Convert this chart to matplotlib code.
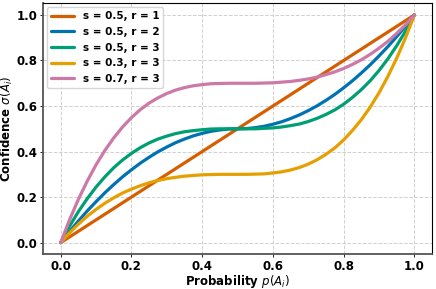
import numpy as np
import matplotlib
matplotlib.use("Agg")
import matplotlib.pyplot as plt

# probability grid (x values)
p = [0.0, 0.025, 0.05, 0.075, 0.1, 0.125, 0.15, 0.175, 0.2, 0.225, 0.25,
     0.275, 0.3, 0.325, 0.35, 0.375, 0.4, 0.425, 0.45, 0.475, 0.5,
     0.525, 0.55, 0.575, 0.6, 0.625, 0.65, 0.675, 0.7, 0.725, 0.75,
     0.775, 0.8, 0.825, 0.85, 0.875, 0.9, 0.925, 0.95, 0.975, 1.0]

# confidence values for each (s, r) curve
conf_s05_r1 = [0.0, 0.025, 0.05, 0.075, 0.1, 0.125, 0.15, 0.175, 0.2, 0.225, 0.25,
               0.275, 0.3, 0.325, 0.35, 0.375, 0.4, 0.425, 0.45, 0.475, 0.5,
               0.525, 0.55, 0.575, 0.6, 0.625, 0.65, 0.675, 0.7, 0.725, 0.75,
               0.775, 0.8, 0.825, 0.85, 0.875, 0.9, 0.925, 0.95, 0.975, 1.0]
conf_s05_r2 = [0.0, 0.049, 0.095, 0.139, 0.18, 0.219, 0.255, 0.289, 0.32, 0.349, 0.375,
               0.399, 0.42, 0.439, 0.455, 0.469, 0.48, 0.489, 0.495, 0.499, 0.5,
               0.501, 0.505, 0.511, 0.52, 0.531, 0.545, 0.561, 0.58, 0.601, 0.625,
               0.651, 0.68, 0.711, 0.745, 0.781, 0.82, 0.861, 0.905, 0.951, 1.0]
conf_s05_r3 = [0.0, 0.072, 0.136, 0.193, 0.244, 0.289, 0.329, 0.363, 0.392, 0.417, 0.438,
               0.455, 0.468, 0.479, 0.487, 0.492, 0.496, 0.499, 0.5, 0.5, 0.5,
               0.5, 0.5, 0.502, 0.504, 0.508, 0.514, 0.521, 0.532, 0.546, 0.563,
               0.583, 0.608, 0.638, 0.672, 0.711, 0.756, 0.807, 0.865, 0.929, 1.0]
conf_s03_r3 = [0.0, 0.043, 0.081, 0.116, 0.146, 0.173, 0.197, 0.218, 0.235, 0.25, 0.263,
               0.273, 0.281, 0.287, 0.292, 0.295, 0.298, 0.299, 0.3, 0.3, 0.3,
               0.3, 0.301, 0.302, 0.306, 0.311, 0.319, 0.33, 0.345, 0.364, 0.388,
               0.416, 0.451, 0.493, 0.54, 0.595, 0.658, 0.73, 0.81, 0.9, 1.0]
conf_s07_r3 = [0.0, 0.1, 0.19, 0.27, 0.342, 0.405, 0.46, 0.508, 0.549, 0.584, 0.613,
               0.636, 0.655, 0.67, 0.681, 0.689, 0.694, 0.698, 0.699, 0.7, 0.7,
               0.7, 0.7, 0.701, 0.702, 0.705, 0.708, 0.713, 0.719, 0.727, 0.738,
               0.75, 0.765, 0.783, 0.803, 0.827, 0.854, 0.884, 0.919, 0.957, 1.0]

labels = ["s = 0.5, r = 1", "s = 0.5, r = 2", "s = 0.5, r = 3",
          "s = 0.3, r = 3", "s = 0.7, r = 3"]
colors = ["#d55e00", "#0072b2", "#009e73", "#e69f00", "#cc79a7"]
series = [conf_s05_r1, conf_s05_r2, conf_s05_r3, conf_s03_r3, conf_s07_r3]

fig, ax = plt.subplots(figsize=(4.36, 2.89), dpi=100)

for vals, lab, col in zip(series, labels, colors):
    ax.plot(p, vals, color=col, lw=2.3, label=lab, solid_capstyle="round")

ax.set_xlim(-0.05, 1.05)
ax.set_ylim(-0.05, 1.053)
ax.set_xticks(np.arange(0, 1.01, 0.2))
ax.set_yticks(np.arange(0, 1.01, 0.2))
ax.grid(True, linestyle="--", color="#d0d0d0", linewidth=0.7)
ax.set_axisbelow(True)

for lab in ax.get_xticklabels() + ax.get_yticklabels():
    lab.set_fontweight("bold")
ax.tick_params(labelsize=8.5, length=2, width=0.6, pad=2)

ax.spines["left"].set_color("#555555")
ax.spines["bottom"].set_color("#555555")
ax.spines["left"].set_linewidth(1.3)
ax.spines["bottom"].set_linewidth(1.3)
ax.spines["top"].set_linewidth(0.8)
ax.spines["right"].set_linewidth(0.8)

ax.set_xlabel(r"Probability $p(A_i)$", fontsize=8.5, fontweight="bold", labelpad=0)
ax.set_ylabel(r"Confidence $\sigma(A_i)$", fontsize=8.5, fontweight="bold", labelpad=1)

leg = ax.legend(loc="upper left", prop={"weight": "bold", "size": 7.5},
                handlelength=2.2, borderaxespad=0.4, labelspacing=0.55)
leg.get_frame().set_edgecolor("#cccccc")

plt.subplots_adjust(left=0.0986, right=0.991, top=0.99, bottom=0.121)
fig.savefig("out.png", dpi=100)
